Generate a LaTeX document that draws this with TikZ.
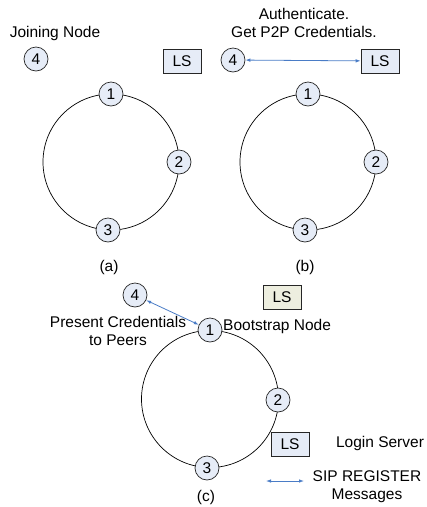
\documentclass[tikz,border=0pt]{standalone}
\usepackage{fontspec}
\setmainfont{Liberation Sans}
\usetikzlibrary{arrows.meta}
\definecolor{nodefill}{HTML}{E6ECF7}
\definecolor{bootfill}{HTML}{EDEEDF}
\definecolor{msgblue}{HTML}{4A7CC6}
\tikzset{
  txt/.style={font=\fontsize{15.5}{18}\selectfont, inner sep=0pt, align=center},
  peer/.style={circle, draw=black!85, line width=0.7pt, fill=nodefill, minimum size=24pt, inner sep=0pt, font=\fontsize{15.5}{16}\selectfont},
  lsbox/.style={draw=black!85, line width=0.7pt, fill=nodefill, minimum width=38pt, minimum height=24pt, inner sep=0pt, font=\fontsize{15.5}{16}\selectfont},
  ring/.style={draw=black, line width=0.7pt},
  msg/.style={draw=msgblue, line width=0.8pt, {Latex[length=5pt,width=3.5pt]}-{Latex[length=5pt,width=3.5pt]}}
}
\begin{document}
\begin{tikzpicture}[x=1pt,y=-1pt]
\useasboundingbox (0,0) rectangle (427,507);
% ---------- (a)
\draw[ring] (111,162) circle[radius=68];
\node[txt] (ja) at (55,33) {Joining Node};
\node[peer] (a4) at (36,59) {4};
\node[lsbox] (als) at (182,61) {LS};
\node[peer] (a1) at (111,94) {1};
\node[peer] (a2) at (179,162) {2};
\node[peer] (a3) at (108,230) {3};
\node[txt] (la) at (109,267) {(a)};
% ---------- (b)
\draw[ring] (308,162) circle[radius=68];
\node[txt] (auth) at (304,23) {Authenticate.\\Get P2P Credentials.};
\node[peer] (b4) at (233,60) {4};
\node[lsbox] (bls) at (380,61) {LS};
\node[peer] (b1) at (308,94) {1};
\node[peer] (b2) at (376,162) {2};
\node[peer] (b3) at (305,230) {3};
\node[txt] (lb) at (305,267) {(b)};
\draw[msg] (b4) -- (bls);
% ---------- (c)
\draw[ring] (210,399) circle[radius=68.5];
\node[peer] (c4) at (135,295) {4};
\node[lsbox, fill=bootfill] (cls) at (282,297) {LS};
\node[peer] (c1) at (210,330) {1};
\node[peer] (c2) at (278,400) {2};
\node[peer] (c3) at (207,468) {3};
\node[lsbox] (cls2) at (290,444) {LS};
\node[txt] (pres) at (118,331) {Present Credentials\\to Peers};
\node[txt, anchor=west] (boot) at (223,326) {Bootstrap Node};
\node[txt] (lc) at (206,497) {(c)};
\draw[msg] (c4) -- (c1);
% ---------- legend
\node[txt] (login) at (380,443) {Login Server};
\node[txt] (sip) at (367,487) {SIP REGISTER\\Messages};
\coordinate (l1) at (266,481);
\coordinate (l2) at (304,481);
\draw[msg] (l1) -- (l2);
\end{tikzpicture}
\end{document}
